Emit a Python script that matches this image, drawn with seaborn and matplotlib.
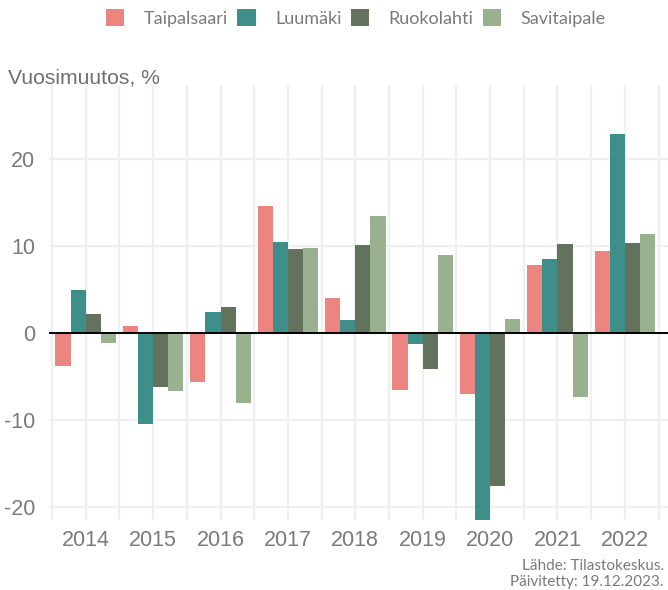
import numpy as np
import pandas as pd
import matplotlib
matplotlib.use("Agg")
import matplotlib.pyplot as plt
import seaborn as sns

# annual change, %
years = ["2014", "2015", "2016", "2017", "2018", "2019", "2020", "2021", "2022"]
taipalsaari = [-3.8, 0.8, -5.6, 14.6, 4.0, -6.5, -7.0, 7.8, 9.4]
luumaki = [4.9, -10.4, 2.4, 10.4, 1.5, -1.3, -22.5, 8.5, 22.8]
ruokolahti = [2.2, -6.2, 3.0, 9.6, 10.1, -4.1, -17.5, 10.2, 10.3]
savitaipale = [-1.2, -6.6, -8.0, 9.7, 13.4, 9.0, 1.6, -7.3, 11.4]

kunnat = ["Taipalsaari", "Luumäki", "Ruokolahti", "Savitaipale"]
colours = ["#ec847f", "#3e8e8a", "#62725d", "#99b18e"]

df = pd.DataFrame({
    "vuosi": years * 4,
    "kunta": np.repeat(kunnat, len(years)),
    "muutos": taipalsaari + luumaki + ruokolahti + savitaipale,
})

sns.set_style("white")
plt.rcParams["font.family"] = ["Liberation Sans", "DejaVu Sans"]

fig = plt.figure(figsize=(6.68, 5.9), dpi=100)
ax = fig.add_axes([49 / 668, 1 - 520 / 590, 619 / 668, 435 / 590])

sns.barplot(data=df, x="vuosi", y="muutos", hue="kunta", hue_order=kunnat,
            palette=colours, width=0.9, saturation=1, errorbar=None, ax=ax,
            linewidth=0, edgecolor="none", zorder=3)

ax.set_ylim(-21.45, 28.45)
ax.set_xlim(-0.545, 8.64)
ax.set_yticks([-20, -10, 0, 10, 20])
ax.set_yticklabels(["-20", "-10", "0", "10", "20"])
ax.set_xticks(np.arange(len(years)), minor=False)
ax.set_xticks(np.arange(len(years) + 1) - 0.5, minor=True)
ax.grid(True, which="both", axis="x", color="#efefef", lw=1.6, zorder=0)
ax.grid(True, which="major", axis="y", color="#efefef", lw=1.6, zorder=0)
ax.axhline(0, color="black", lw=1.4, zorder=4)
ax.tick_params(axis="both", which="both", length=0, labelsize=15.5,
               labelcolor="#7a7a7a")
ax.tick_params(axis="y", pad=10)
ax.tick_params(axis="x", pad=7)
for s in ax.spines.values():
    s.set_visible(False)
ax.set_xlabel("")
ax.set_ylabel("")

fig.text(8 / 668, 1 - 78 / 590, "Vuosimuutos, %", fontsize=15.2,
         color="#6f6f6f", va="center", ha="left")

sns.move_legend(ax, "center", bbox_to_anchor=(356 / 668, 1 - 18 / 590),
                bbox_transform=fig.transFigure, ncol=4, frameon=False,
                title=None, handlelength=1.0, handleheight=1.0,
                handletextpad=1.1, columnspacing=0.5,
                prop={"family": "Lato", "size": 13})
for t in ax.get_legend().get_texts():
    t.set_color("#7a7a7a")

fig.text(664 / 668, 1 - 566 / 590, "Lähde: Tilastokeskus.", fontsize=11,
         family="Lato", color="#7a7a7a", ha="right", va="center")
fig.text(664 / 668, 1 - 582 / 590, "Päivitetty: 19.12.2023.", fontsize=11,
         family="Lato", color="#7a7a7a", ha="right", va="center")

fig.savefig("out.png", dpi=100)
